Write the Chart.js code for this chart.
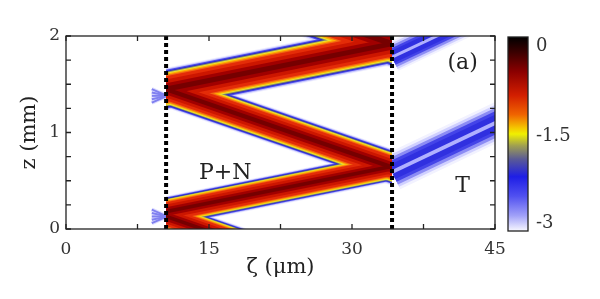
<!DOCTYPE html>
<html>
<head>
<meta charset="utf-8">
<script src="https://cdn.jsdelivr.net/npm/chart.js@4.4.1/dist/chart.umd.min.js"></script>
<style>
  html, body { margin: 0; padding: 0; background: #fff; }
  canvas { display: block; }
</style>
</head>
<body>
<canvas id="chart" width="600" height="299"></canvas>
<script>
// beam centre lines (zeta in um, z in mm);
// each segment runs a little past the interfaces and is clipped there
const beamDZeta = [23.1, 8.5];   const beamDZ = [-0.3, 0.198];   // incoming
const beamAZeta = [8.5, 36.2];   const beamAZ = [0.14, 0.689];
const beamBZeta = [36.2, 8.5];   const beamBZ = [0.572, 1.516];
const beamCZeta = [8.5, 36.2];   const beamCZ = [1.41, 1.959];
const beamEZeta = [36.2, 20.1];  const beamEZ = [1.851, 2.4];
// transmitted beams (right of the second interface)
const trans1Zeta = [34.2, 46.0]; const trans1Z = [0.59, 1.145];
const trans2Zeta = [34.2, 45.3]; const trans2Z = [1.78, 2.3];
// small leaks left of the first interface: fan of short rays
const leakZeta = [9.0, 10.6];
const leakZ = [0.13, 1.38];
const leakSpread = [-0.07, -0.035, 0, 0.035, 0.07];
// interfaces (dashed lines)
const interfaces = [10.5, 34.2];
const xLabels = [0, 15, 30, 45];
const yLabels = [0, 1, 2];
const cbLabels = ['0', '-1.5', '-3'];

const FONT = 'DejaVu Serif';
const pts = (xs, ys) => xs.map((x, i) => ({ x: x, y: ys[i] }));

// beam profile, outer -> inner (fraction of full width, colour)
const beamProfile = [
    [1.0, '#eeeeff'], [0.95, '#c2c2ff'], [0.9, '#4a4ae8'], [0.85, '#2424c8'],
    [0.81, '#8c8c64'], [0.77, '#e8e632'], [0.72, '#ffb000'], [0.66, '#f26812'],
    [0.6, '#e42c08'], [0.45, '#cc1600'], [0.28, '#a00000'], [0.12, '#760000']
];
const transProfile = [
    [1.0, '#f2f2ff'], [0.86, '#d0d0ff'], [0.72, '#8c8cf4'], [0.56, '#4444e8'],
    [0.4, '#3030e0'], [0.1, '#b0b0ff']
];
const leakProfile = [[4, '#dcdcff'], [2, '#8080f0']];

const mainBeams = [
    [pts(beamDZeta, beamDZ), 30],
    [pts(beamAZeta, beamAZ), 31],
    [pts(beamBZeta, beamBZ), 35],
    [pts(beamCZeta, beamCZ), 42],
    [pts(beamEZeta, beamEZ), 46]
];
const transBeams = [
    [pts(trans1Zeta, trans1Z), 38],
    [pts(trans2Zeta, trans2Z), 30]
];

const datasets = [];
let order = 1000;

function line(data, w, c, region) {
    datasets.push({
        data: data,
        showLine: true,
        borderColor: c,
        borderWidth: w,
        borderCapStyle: 'butt',
        pointRadius: 0,
        tension: 0,
        region: region,
        order: order--
    });
}

leakProfile.forEach(([w, c]) => {
    leakZ.forEach(z => leakSpread.forEach(s =>
        line(pts(leakZeta, [z + s, z]), w, c, [-10, interfaces[0]])));
});
transProfile.forEach(([f, c]) => {
    transBeams.forEach(([d, w]) => line(d, w * f, c, [interfaces[1], 60]));
});
beamProfile.forEach(([f, c]) => {
    mainBeams.forEach(([d, w]) => line(d, w * f, c, [interfaces[0], interfaces[1]]));
});

interfaces.forEach(v => {
    datasets.push({
        data: [{ x: v, y: 0 }, { x: v, y: 2 }],
        showLine: true,
        borderColor: '#000',
        borderWidth: 4,
        borderDash: [4, 3],
        pointRadius: 0,
        order: 0
    });
});

const regionClip = {
    id: 'regionClip',
    beforeDatasetDraw(chart, args) {
        const ds = chart.data.datasets[args.index];
        if (!ds.region) return;
        const a = chart.chartArea, xs = chart.scales.x;
        const x1 = Math.max(a.left, xs.getPixelForValue(ds.region[0]));
        const x2 = Math.min(a.right, xs.getPixelForValue(ds.region[1]));
        const ctx = chart.ctx;
        ctx.save();
        ctx.beginPath();
        ctx.rect(x1, a.top, x2 - x1, a.bottom - a.top);
        ctx.clip();
    },
    afterDatasetDraw(chart, args) {
        if (chart.data.datasets[args.index].region) chart.ctx.restore();
    }
};

const decor = {
    id: 'decor',
    beforeDraw(chart) {
        const ctx = chart.ctx;
        ctx.save();
        ctx.fillStyle = '#fff';
        ctx.fillRect(0, 0, chart.width, chart.height);
        ctx.restore();
    },
    afterDatasetsDraw(chart) {
        const ctx = chart.ctx, a = chart.chartArea;
        const xs = chart.scales.x, ys = chart.scales.y;
        ctx.save();
        ctx.strokeStyle = '#222';
        ctx.lineWidth = 1.3;
        ctx.strokeRect(a.left, a.top, a.right - a.left, a.bottom - a.top);
        ctx.beginPath();
        const tl = 5;
        xs.ticks.forEach(t => {
            const px = xs.getPixelForValue(t.value);
            ctx.moveTo(px, a.bottom); ctx.lineTo(px, a.bottom - tl);
            ctx.moveTo(px, a.top); ctx.lineTo(px, a.top + tl);
        });
        ys.ticks.forEach(t => {
            const py = ys.getPixelForValue(t.value);
            ctx.moveTo(a.left, py); ctx.lineTo(a.left + tl, py);
            ctx.moveTo(a.right, py); ctx.lineTo(a.right - tl, py);
        });
        ctx.stroke();

        // annotations
        ctx.fillStyle = '#222';
        ctx.font = '22px "' + FONT + '"';
        ctx.textAlign = 'center';
        ctx.textBaseline = 'middle';
        ctx.fillText('(a)', xs.getPixelForValue(41.6), ys.getPixelForValue(1.72));
        ctx.fillText('P+N', xs.getPixelForValue(16.7), ys.getPixelForValue(0.58));
        ctx.fillText('T', xs.getPixelForValue(41.6), ys.getPixelForValue(0.44));

        // colour bar
        const cx = a.right + 13, cw = 20, cy = a.top + 1, ch = a.bottom - a.top + 1;
        const g = ctx.createLinearGradient(0, cy, 0, cy + ch);
        [[0, '#000000'], [0.08, '#3c0000'], [0.18, '#8c0000'], [0.3, '#d21e00'],
         [0.4, '#f06400'], [0.47, '#f5c800'], [0.5, '#f0f000'], [0.56, '#a0a050'],
         [0.63, '#5a5a96'], [0.72, '#1e1ee6'], [0.82, '#5050f0'], [0.92, '#a0a0f8'],
         [1, '#f8f8ff']].forEach(([o, c]) => g.addColorStop(o, c));
        ctx.fillStyle = g;
        ctx.fillRect(cx, cy, cw, ch);
        ctx.strokeStyle = '#222';
        ctx.lineWidth = 1.3;
        ctx.strokeRect(cx, cy, cw, ch);
        ctx.fillStyle = '#333';
        ctx.font = '18px "' + FONT + '"';
        ctx.textAlign = 'left';
        ctx.textBaseline = 'top';
        ctx.fillText(cbLabels[0], cx + cw + 8, cy);
        ctx.textBaseline = 'middle';
        ctx.fillText(cbLabels[1], cx + cw + 8, cy + ch / 2 + 2);
        ctx.textBaseline = 'bottom';
        ctx.fillText(cbLabels[2], cx + cw + 8, cy + ch + 1);
        ctx.restore();
    }
};

new Chart(document.getElementById('chart'), {
    type: 'scatter',
    data: { datasets: datasets },
    options: {
        responsive: false,
        animation: false,
        events: [],
        layout: { padding: { top: 36, right: 105, left: 0, bottom: 0 } },
        plugins: { legend: { display: false }, tooltip: { enabled: false } },
        scales: {
            x: {
                type: 'linear', min: 0, max: 45,
                grid: { display: false, drawTicks: false },
                border: { display: false },
                ticks: {
                    stepSize: 7.5, autoSkip: false, maxRotation: 0, padding: 10,
                    color: '#333', font: { family: FONT, size: 17 },
                    callback: v => xLabels.includes(v) ? String(v) : ''
                },
                title: {
                    display: true, text: 'ζ (μm)', color: '#222',
                    font: { family: FONT, size: 21 }, padding: { top: 0, bottom: 19 }
                },
                afterFit: s => { s.height = 70; }
            },
            y: {
                type: 'linear', min: 0, max: 2,
                grid: { display: false, drawTicks: false },
                border: { display: false },
                ticks: {
                    stepSize: 0.25, autoSkip: false, padding: 6,
                    color: '#333', font: { family: FONT, size: 17 },
                    callback: v => yLabels.includes(v) ? String(v) : ''
                },
                title: {
                    display: true, text: 'z (mm)', color: '#222',
                    font: { family: FONT, size: 21 }, padding: { top: 17, bottom: 0 }
                },
                afterFit: s => { s.width = 66; }
            }
        }
    },
    plugins: [regionClip, decor]
});
</script>
</body>
</html>
